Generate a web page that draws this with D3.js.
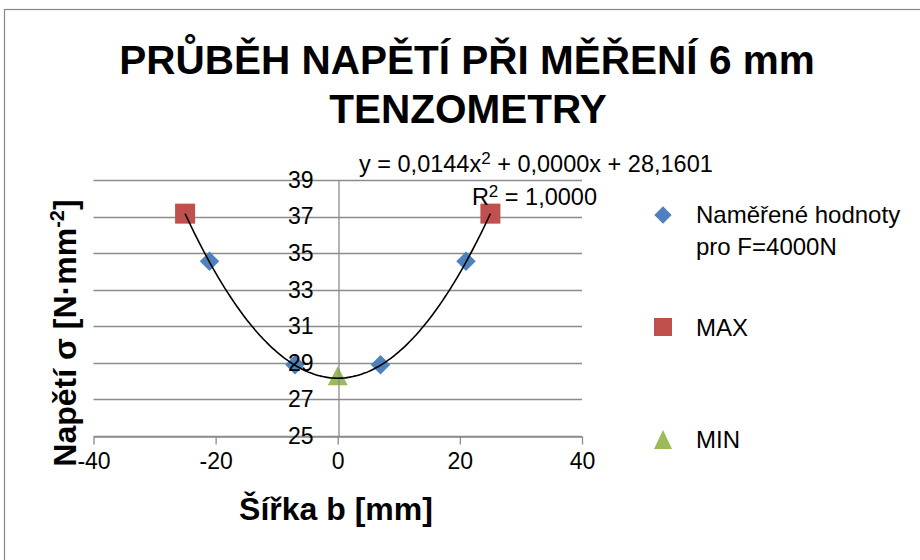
<!DOCTYPE html>
<html>
<head>
<meta charset="utf-8">
<script src="https://cdn.jsdelivr.net/npm/d3@7"></script>
<style>
  body { margin: 0; background: #fff; }
  svg text { font-family: "Liberation Sans", Arial, sans-serif; fill: #000; }
</style>
</head>
<body>
<div id="chart-area"></div>
<script>
const SVG_WIDTH = 920;
const SVG_HEIGHT = 560;

// data
const measuredX = [-21, -7, 7, 21];
const measuredY = [34.55, 28.9, 28.9, 34.55];
const maxX = [-25, 25];
const maxY = [37.16, 37.16];
const minX = [0];
const minY = [28.16];
const trendCoef = [0.0144, 0.0000, 28.1601]; // a, b, c
const trendRange = [-25, 25];
const xTicks = [-40, -20, 0, 20, 40];
const yTicks = [25, 27, 29, 31, 33, 35, 37, 39];

const plot = { left: 93.5, right: 582, top: 180, bottom: 436 };

const svg = d3.select("#chart-area").append("svg")
    .attr("width", SVG_WIDTH).attr("height", SVG_HEIGHT);

// chart border
svg.append("rect").attr("x", 4.5).attr("y", 9.5).attr("width", 940).attr("height", 580)
    .attr("fill", "none").attr("stroke", "#868686").attr("stroke-width", 1.2);

const x = d3.scaleLinear().domain([-40, 40]).range([plot.left, plot.right]);
const y = d3.scaleLinear().domain([25, 39]).range([plot.bottom, plot.top]);

const GRID = "#8c8c8c";

// horizontal gridlines
svg.append("g").selectAll("line").data(yTicks).enter().append("line")
    .attr("x1", plot.left).attr("x2", plot.right)
    .attr("y1", d => Math.round(y(d)) + 0.5).attr("y2", d => Math.round(y(d)) + 0.5)
    .attr("stroke", GRID).attr("stroke-width", 1.3);

// x axis at the bottom
const xAxis = svg.append("g").attr("transform", `translate(0, ${Math.round(y(25)) + 0.5})`)
    .call(d3.axisBottom(x).tickValues(xTicks).tickSize(8).tickSizeOuter(0).tickPadding(8)
        .tickFormat(d => String(d)));
xAxis.select(".domain").attr("stroke", GRID).attr("stroke-width", 1.3);
xAxis.selectAll(".tick line").attr("stroke", GRID).attr("stroke-width", 1.3);
xAxis.selectAll("text").attr("font-size", "23px").style("fill", "#000");

// y axis crossing at x = 0
const yAxis = svg.append("g").attr("transform", `translate(${Math.round(x(0)) + 0.5}, 0)`)
    .call(d3.axisLeft(y).tickValues(yTicks).tickSize(0).tickSizeOuter(0).tickPadding(25)
        .tickFormat(d => String(d)));
yAxis.select(".domain").attr("stroke", GRID).attr("stroke-width", 1.3);

// markers
const diamond = d3.symbol().type(d3.symbolSquare).size(190);
svg.append("g").selectAll("path").data(measuredX).enter().append("path")
    .attr("d", diamond)
    .attr("transform", (d, i) => `translate(${x(d)},${y(measuredY[i])}) rotate(45)`)
    .attr("fill", "#4f81bd");

svg.append("g").selectAll("rect").data(maxX).enter().append("rect")
    .attr("x", d => x(d) - 10).attr("y", (d, i) => y(maxY[i]) - 10)
    .attr("width", 20).attr("height", 20).attr("fill", "#c0504d");

svg.append("g").selectAll("path").data(minX).enter().append("path")
    .attr("d", (d, i) => {
        const cx = x(d), cy = y(minY[i]);
        return `M${cx},${cy - 12}L${cx + 10},${cy + 7}L${cx - 10},${cy + 7}Z`;
    })
    .attr("fill", "#9bbb59");

// y tick labels sit over the markers
yAxis.raise();
yAxis.selectAll("text").attr("font-size", "23px").style("fill", "#000");

// polynomial trendline
const trendPts = d3.range(trendRange[0], trendRange[1] + 0.01, 0.5)
    .map(v => [v, trendCoef[0] * v * v + trendCoef[1] * v + trendCoef[2]]);
svg.append("path").datum(trendPts)
    .attr("d", d3.line().x(d => x(d[0])).y(d => y(d[1])).curve(d3.curveBasis))
    .attr("fill", "none").attr("stroke", "#000").attr("stroke-width", 1.6);

// trendline label
const fmt = v => v.toFixed(4).replace(".", ",");
const eq = svg.append("text").attr("x", 359).attr("y", 172).attr("font-size", "23.5px");
eq.append("tspan").text(`y = ${fmt(trendCoef[0])}x`);
eq.append("tspan").attr("dy", -8).attr("font-size", "17px").text("2");
eq.append("tspan").attr("dy", 8).text(` + ${fmt(trendCoef[1])}x + ${fmt(trendCoef[2])}`);

const r2 = svg.append("text").attr("x", 597).attr("y", 205).attr("font-size", "23.5px")
    .attr("text-anchor", "end");
r2.append("tspan").text("R");
r2.append("tspan").attr("dy", -8).attr("font-size", "17px").text("2");
r2.append("tspan").attr("dy", 8).text(" = 1,0000");

// title
svg.append("text").attr("x", 467).attr("y", 74).attr("text-anchor", "middle")
    .attr("font-size", "40.5px").attr("font-weight", "bold")
    .text("PRŮBĚH NAPĚTÍ PŘI MĚŘENÍ 6 mm");
svg.append("text").attr("x", 468).attr("y", 123).attr("text-anchor", "middle")
    .attr("font-size", "40.5px").attr("font-weight", "bold")
    .text("TENZOMETRY");

// axis titles
svg.append("text").attr("x", 336).attr("y", 520).attr("text-anchor", "middle")
    .attr("font-size", "32px").attr("font-weight", "bold")
    .text("Šířka b [mm]");

const yt = svg.append("text").attr("transform", "translate(76, 333) rotate(-90)")
    .attr("text-anchor", "middle").attr("font-size", "32px").attr("font-weight", "bold");
yt.append("tspan").text("Napětí σ [N·mm");
yt.append("tspan").attr("dy", -12).attr("font-size", "20px").text("-2");
yt.append("tspan").attr("dy", 12).text("]");

// legend
const legend = svg.append("g").attr("font-size", "24px");
legend.append("path").attr("d", d3.symbol().type(d3.symbolSquare).size(150))
    .attr("transform", "translate(663,215) rotate(45)").attr("fill", "#4f81bd");
legend.append("text").attr("x", 696).attr("y", 223).text("Naměřené hodnoty");
legend.append("text").attr("x", 696).attr("y", 255).text("pro F=4000N");

legend.append("rect").attr("x", 654).attr("y", 318).attr("width", 18).attr("height", 18)
    .attr("fill", "#c0504d");
legend.append("text").attr("x", 696).attr("y", 336).text("MAX");

legend.append("path").attr("d", "M663,430L672,449L654,449Z").attr("fill", "#9bbb59");
legend.append("text").attr("x", 696).attr("y", 448).text("MIN");
</script>
</body>
</html>
